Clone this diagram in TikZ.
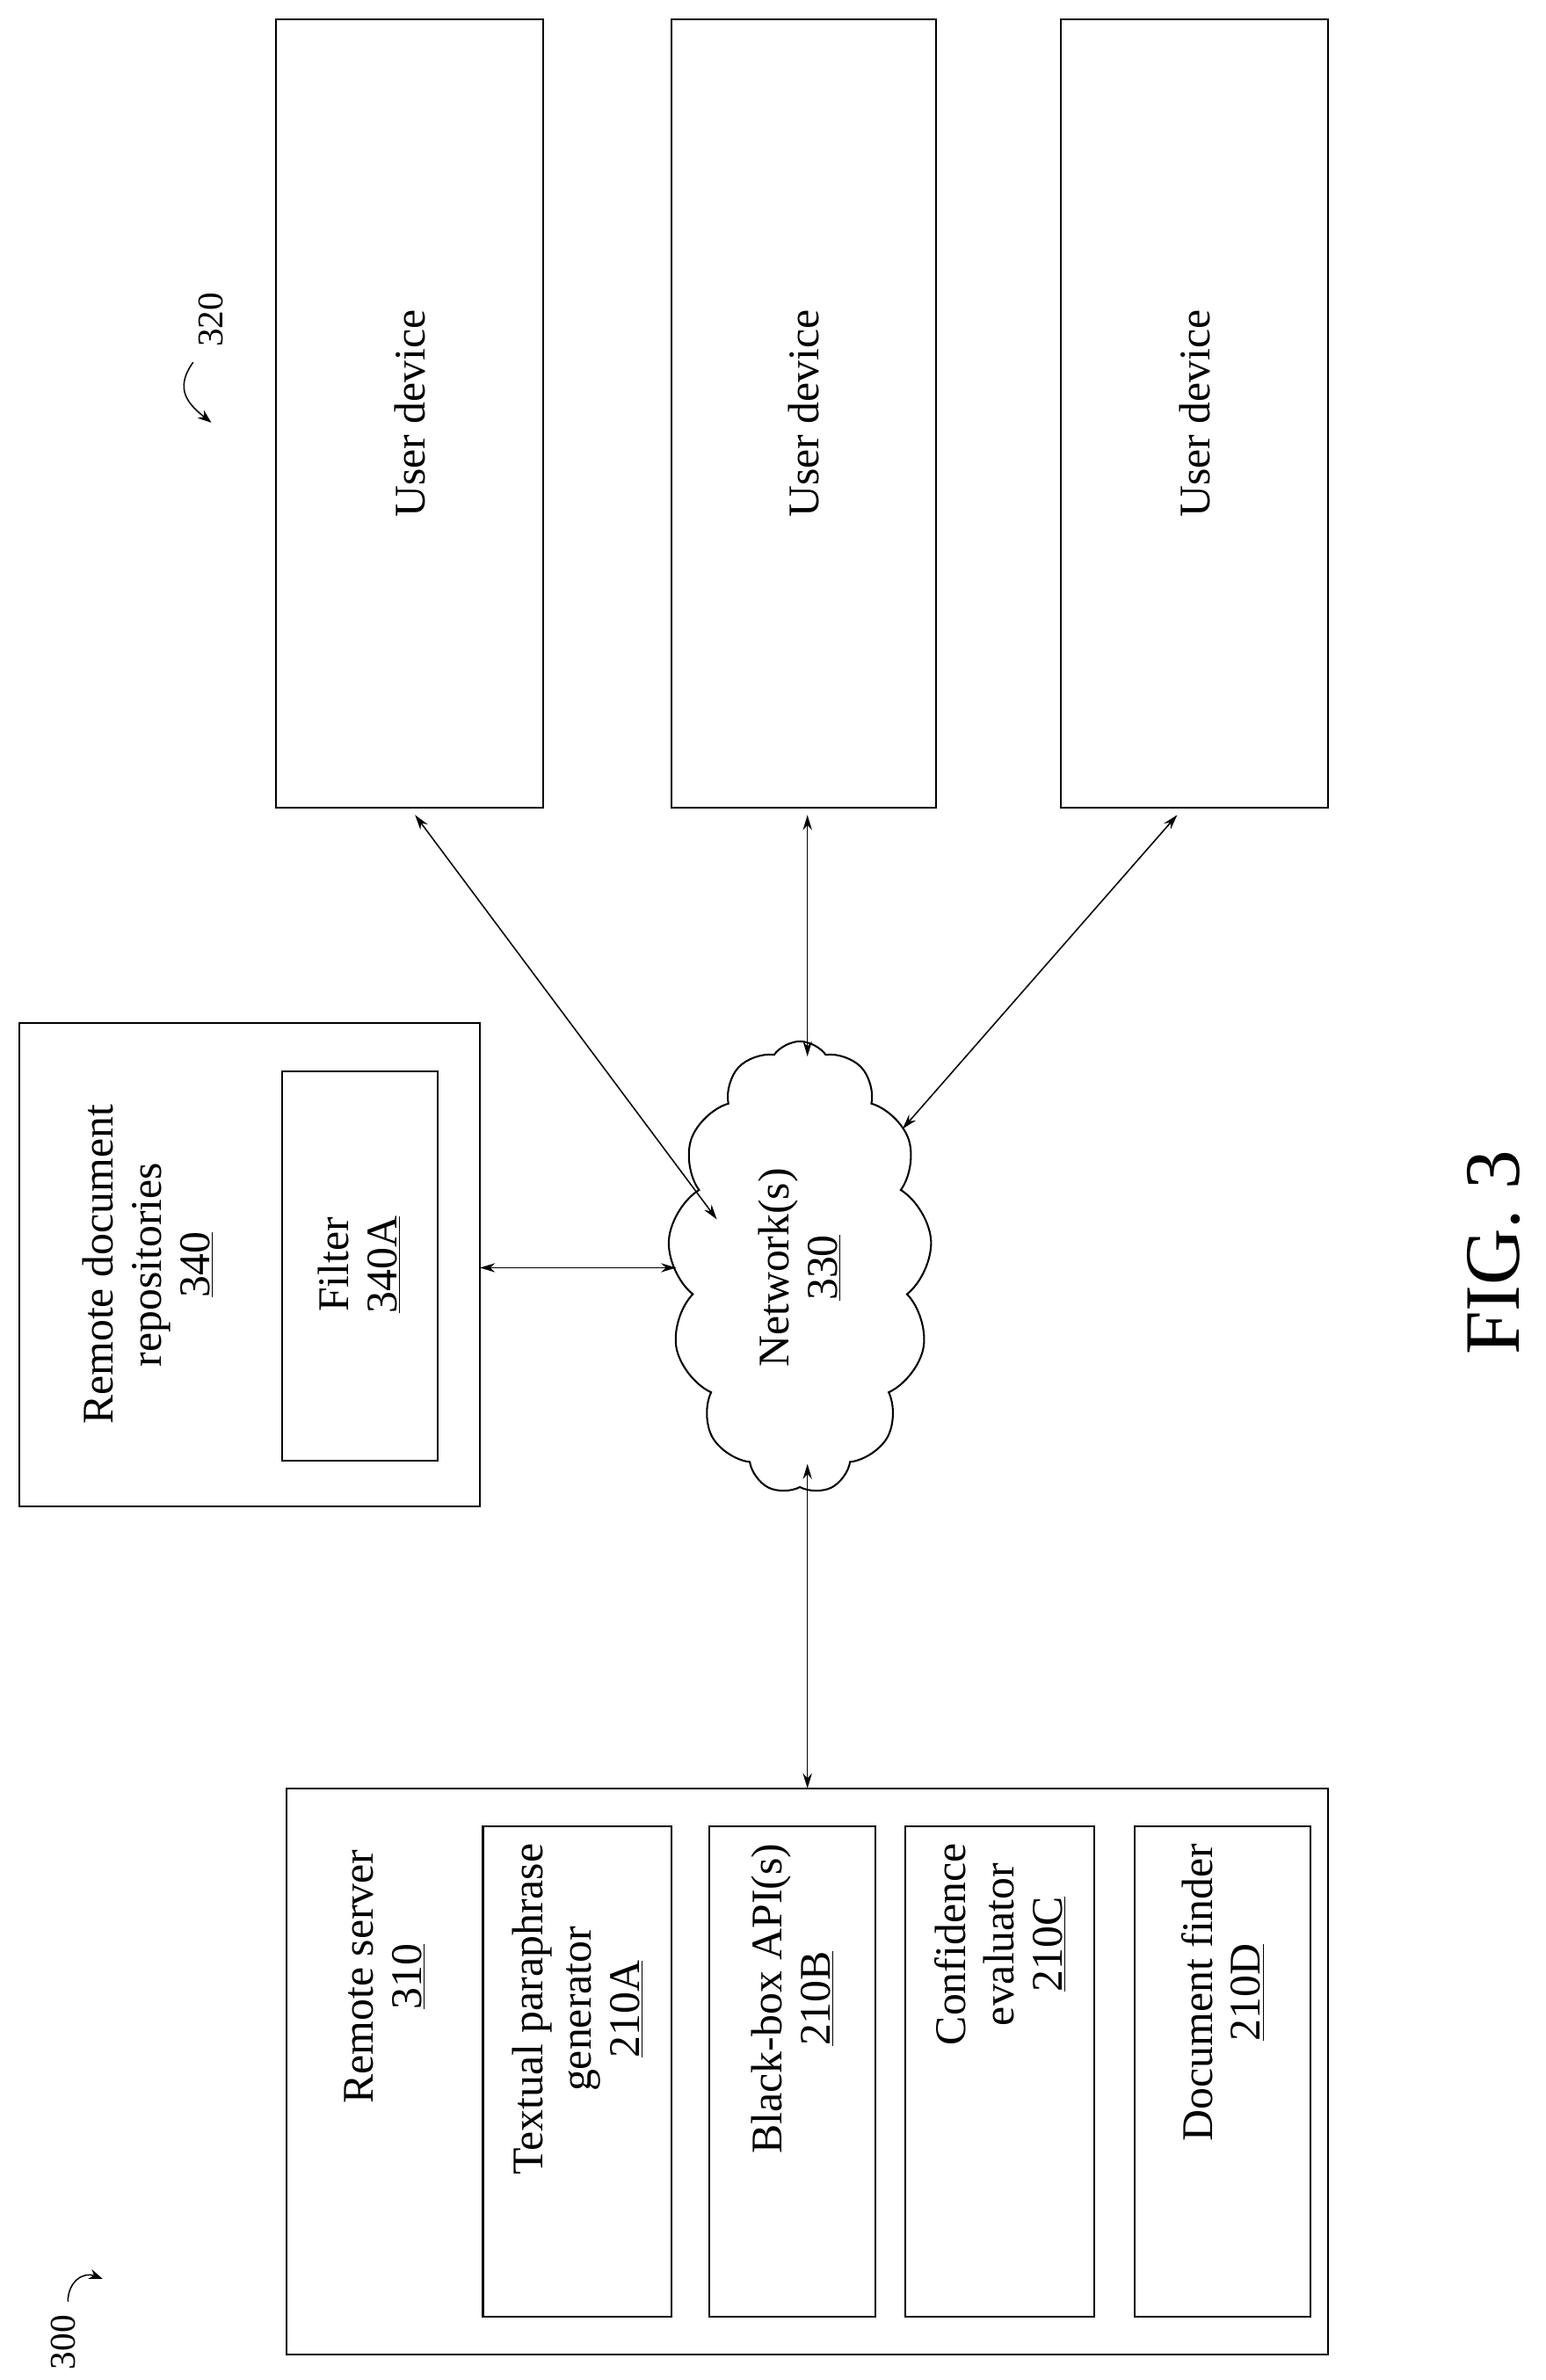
\documentclass[tikz,border=0pt]{standalone}
\usepackage{fontspec}
\setmainfont{Liberation Serif}
\usetikzlibrary{shapes.symbols,arrows.meta}
\begin{document}
\begin{tikzpicture}[x=1pt,y=-1pt,
  box/.style={draw,line width=1.2pt},
  lbl/.style={rotate=90,align=center,font=\fontsize{29}{32}\selectfont},
  conn/.style={<->,>={Stealth[length=10pt,width=6pt]},line width=0.9pt}]
\useasboundingbox (0,0) rectangle (1024,1577);
% user devices
\foreach \n/\a/\b in {u1/183/360,u2/445/620,u3/703/880}{
  \draw[box] (\a,13) rectangle (\b,535);
  \node[lbl] (\n) at ({(\a+\b)/2},274) {User device};
}
\coordinate (u1b) at (275,540);
\coordinate (u2b) at (535,540);
\coordinate (u3b) at (780,540);
% repositories
\draw[box] (13,678) rectangle (318,998);
\draw[box] (187,710) rectangle (290,968);
\node[lbl] (rep) at (98,838) {Remote document\\repositories\\\underline{340}};
\node[lbl] (fil) at (238,838) {Filter\\\underline{340A}};
\coordinate (repR) at (318,840);
% cloud
\node[cloud,draw,line width=1.2pt,cloud puffs=13,cloud puff arc=110,aspect=0.55,
  minimum width=175,minimum height=300,inner sep=0] (net) at (530,840) {};
\node[lbl] at (530,840) {Network(s)\\\underline{330}};
% server
\draw[box] (190,1185) rectangle (880,1560);
\node[lbl,anchor=east] (srv) at (255,1222) {Remote server\\\underline{310}};
\foreach \n/\a/\b/\t in {a/320/445/{Textual paraphrase\\generator\\\underline{210A}},
  b/470/580/{Black-box API(s)\\\underline{210B}},
  c/600/725/{Confidence\\evaluator\\\underline{210C}},
  d/752/868/{Document finder\\\underline{210D}}}{
  \draw[box] (\a,1210) rectangle (\b,1535);
  \node[lbl,anchor=east] (s\n) at ({(\a+\b)/2},1218) {\t};
}
\coordinate (srvT) at (535,1185);
% connectors
\draw[conn] (u1b) -- (475,808);
\draw[conn] (u2b) -- (535,700);
\draw[conn] (u3b) -- (598,748);
\draw[conn] (repR) -- (448,840);
\draw[conn] (srvT) -- (535,970);
% reference labels
\node[rotate=90,font=\fontsize{24}{28}\selectfont] (l320) at (140,212) {320};
\draw[-{Stealth[length=9pt]},line width=0.9pt] (128,240) .. controls (115,258) and (125,268) .. (140,280);
\node[rotate=90,font=\fontsize{24}{28}\selectfont] (l300) at (42,1552) {300};
\draw[-{Stealth[length=9pt]},line width=0.9pt] (45,1525) .. controls (45,1512) and (55,1505) .. (68,1510);
\node[rotate=90,font=\fontsize{52}{58}\selectfont] (fig) at (990,830) {FIG. 3};
\end{tikzpicture}
\end{document}
